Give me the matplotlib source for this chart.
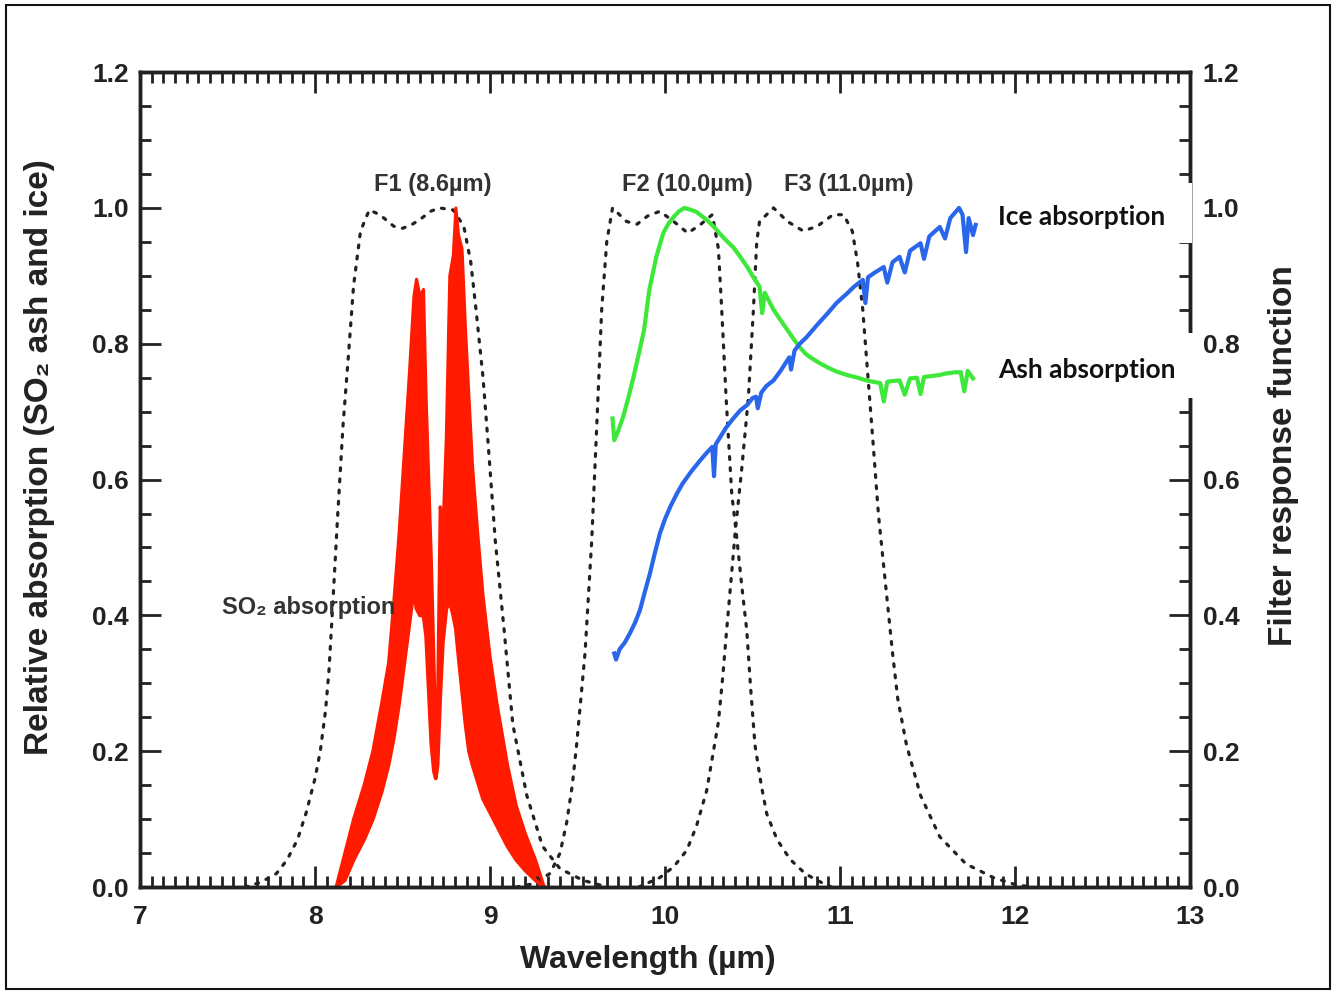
import matplotlib
matplotlib.use("Agg")
import matplotlib.pyplot as plt
from matplotlib.patches import Rectangle
from matplotlib.ticker import MultipleLocator, AutoMinorLocator

plt.rcParams['font.family'] = ['Liberation Sans', 'DejaVu Sans']

# filter response functions (dotted)
f1_wl = [7.60, 7.69, 7.78, 7.84, 7.90, 7.95, 8.00, 8.03, 8.06, 8.08, 8.10, 8.13, 8.16, 8.19, 8.22, 8.26,
         8.31, 8.37, 8.45, 8.50, 8.55, 8.60, 8.66, 8.71, 8.79, 8.85, 8.89, 8.92, 8.96, 8.99, 9.03, 9.08,
         9.13, 9.21, 9.30, 9.40, 9.53, 9.67]
f1_val = [0.0, 0.007, 0.02, 0.04, 0.07, 0.11, 0.16, 0.20, 0.26, 0.32, 0.41, 0.55, 0.68, 0.78, 0.885, 0.966,
          0.997, 0.99, 0.973, 0.97, 0.975, 0.983, 0.995, 1.0, 0.997, 0.973, 0.92, 0.85, 0.75, 0.65, 0.51, 0.38,
          0.24, 0.135, 0.06, 0.027, 0.01, 0.0]

f2_wl = [9.15, 9.25, 9.343, 9.40, 9.438, 9.47, 9.495, 9.52, 9.543, 9.581, 9.61, 9.638, 9.667, 9.70, 9.74,
         9.78, 9.84, 9.90, 9.97, 10.05, 10.13, 10.20, 10.27, 10.305, 10.324, 10.349, 10.381, 10.41, 10.44,
         10.467, 10.49, 10.514, 10.55, 10.581, 10.64, 10.714, 10.80, 10.867, 10.95]
f2_val = [0.0, 0.005, 0.02, 0.05, 0.095, 0.15, 0.21, 0.28, 0.345, 0.51, 0.68, 0.85, 0.95, 1.0, 0.99,
          0.98, 0.976, 0.988, 0.995, 0.98, 0.963, 0.975, 0.99, 0.94, 0.85, 0.72, 0.58, 0.514, 0.44,
          0.378, 0.29, 0.209, 0.15, 0.108, 0.07, 0.041, 0.02, 0.01, 0.0]

f3_wl = [9.85, 9.971, 10.05, 10.124, 10.18, 10.238, 10.27, 10.305, 10.33, 10.352, 10.38, 10.40, 10.438,
         10.476, 10.505, 10.524, 10.54, 10.62, 10.70, 10.79, 10.87, 10.96, 11.02, 11.07, 11.10, 11.13,
         11.16, 11.19, 11.22, 11.26, 11.30, 11.33, 11.38, 11.46, 11.57, 11.72, 11.88, 12.01, 12.10]
f3_val = [0.0, 0.014, 0.03, 0.054, 0.09, 0.142, 0.19, 0.243, 0.31, 0.378, 0.46, 0.52, 0.615,
          0.72, 0.85, 0.95, 0.98, 1.0, 0.98, 0.966, 0.973, 0.99, 0.99, 0.966, 0.92, 0.85,
          0.75, 0.65, 0.547, 0.446, 0.345, 0.277, 0.209, 0.135, 0.074, 0.034, 0.0135, 0.003, 0.0]

# SO2 absorption band: upper and lower edge of the dense red spectrum
so2_wl = [8.12, 8.17, 8.22, 8.28, 8.33, 8.38, 8.42, 8.45, 8.48, 8.51, 8.54, 8.565, 8.58, 8.60, 8.62,
          8.635, 8.65, 8.665, 8.68, 8.69, 8.70, 8.715, 8.73, 8.75, 8.77, 8.79, 8.805, 8.82, 8.84, 8.86,
          8.88, 8.90, 8.93, 8.96, 9.00, 9.04, 9.10, 9.15, 9.20, 9.26, 9.31]
so2_hi = [0.0, 0.05, 0.10, 0.15, 0.20, 0.27, 0.33, 0.42, 0.52, 0.64, 0.76, 0.87, 0.895, 0.87, 0.88,
          0.72, 0.60, 0.48, 0.33, 0.22, 0.27, 0.56, 0.52, 0.66, 0.90, 0.93, 1.0, 0.96, 0.94, 0.82,
          0.72, 0.62, 0.52, 0.43, 0.34, 0.27, 0.18, 0.12, 0.08, 0.04, 0.0]
so2_lo = [0.0, 0.01, 0.04, 0.07, 0.10, 0.14, 0.18, 0.22, 0.27, 0.33, 0.39, 0.44, 0.41, 0.40, 0.40,
          0.37, 0.29, 0.21, 0.17, 0.16, 0.18, 0.28, 0.36, 0.41, 0.42, 0.40, 0.38, 0.34, 0.29, 0.24,
          0.20, 0.18, 0.155, 0.13, 0.11, 0.09, 0.06, 0.04, 0.025, 0.01, 0.0]

# ash absorption (green)
ash_wl = [9.70, 9.71, 9.73, 9.76, 9.79, 9.82, 9.85, 9.88, 9.91, 9.95, 9.99, 10.02, 10.05, 10.08, 10.11,
          10.15, 10.18, 10.21, 10.24, 10.28, 10.31, 10.35, 10.39, 10.43, 10.47, 10.50, 10.54, 10.555,
          10.57, 10.62, 10.66, 10.70, 10.74, 10.77, 10.80, 10.83, 10.88, 10.93, 10.98, 11.04, 11.10,
          11.15, 11.19, 11.23, 11.25, 11.27, 11.30, 11.34, 11.37, 11.40, 11.44, 11.46, 11.48, 11.54,
          11.57, 11.60, 11.63, 11.66, 11.69, 11.71, 11.73, 11.76]
ash_val = [0.69, 0.658, 0.67, 0.692, 0.72, 0.751, 0.785, 0.82, 0.879, 0.928, 0.963, 0.977, 0.987, 0.995,
           1.0, 0.997, 0.994, 0.988, 0.982, 0.972, 0.963, 0.952, 0.942, 0.928, 0.913, 0.90, 0.884, 0.845,
           0.875, 0.85, 0.835, 0.82, 0.805, 0.795, 0.786, 0.78, 0.772, 0.765, 0.759, 0.754, 0.75,
           0.746, 0.744, 0.742, 0.715, 0.744, 0.745, 0.746, 0.725, 0.749, 0.75, 0.726, 0.751, 0.753,
           0.754, 0.756, 0.757, 0.758, 0.758, 0.73, 0.76, 0.749]

# ice absorption (blue)
ice_wl = [9.71, 9.72, 9.74, 9.77, 9.80, 9.83, 9.857, 9.885, 9.914, 9.94, 9.971, 10.00, 10.03, 10.065,
          10.10, 10.15, 10.20, 10.24, 10.27, 10.28, 10.29, 10.35, 10.39, 10.43, 10.47, 10.50, 10.52,
          10.53, 10.55, 10.58, 10.62, 10.66, 10.71, 10.72, 10.74, 10.77, 10.81, 10.87, 10.93, 10.98,
          11.04, 11.08, 11.13, 11.145, 11.16, 11.20, 11.25, 11.27, 11.30, 11.34, 11.37, 11.40, 11.46,
          11.48, 11.51, 11.57, 11.60, 11.63, 11.68, 11.70, 11.72, 11.735, 11.76, 11.775]
ice_val = [0.344, 0.335, 0.35, 0.36, 0.374, 0.39, 0.408, 0.435, 0.462, 0.49, 0.521, 0.542, 0.56, 0.578,
           0.594, 0.612, 0.628, 0.64, 0.648, 0.605, 0.652, 0.677, 0.69, 0.702, 0.71, 0.72, 0.722,
           0.705, 0.728, 0.738, 0.746, 0.76, 0.78, 0.762, 0.79, 0.80, 0.81, 0.828, 0.845, 0.86,
           0.874, 0.884, 0.894, 0.86, 0.898, 0.905, 0.913, 0.89, 0.92, 0.928, 0.905, 0.937, 0.948,
           0.925, 0.958, 0.972, 0.955, 0.985, 1.0, 0.99, 0.935, 0.985, 0.96, 0.975]

filter_labels = ['F1 (8.6\u00b5m)', 'F2 (10.0\u00b5m)', 'F3 (11.0\u00b5m)']
filter_label_x = [8.67, 10.13, 11.05]

fig = plt.figure(figsize=(13.35, 9.93), dpi=100)
ax = fig.add_axes([0.1049, 0.1067, 0.7865, 0.8207])

dot = (0, (0.9, 2.6))
for wl, val in [(f1_wl, f1_val), (f2_wl, f2_val), (f3_wl, f3_val)]:
    ax.plot(wl, val, color='#222222', lw=2.3, linestyle=dot, dash_capstyle='round')

ax.fill_between(so2_wl, so2_lo, so2_hi, color='#ff1a00', lw=0)
ax.plot(so2_wl, so2_hi, color='#ff1a00', lw=2.2)
ax.plot(so2_wl, so2_lo, color='#ff1a00', lw=2.8)
ax.plot(ash_wl, ash_val, color='#3ee83a', lw=3)
ax.plot(ice_wl, ice_val, color='#2a66ea', lw=3)

ax.set_xlim(7, 13)
ax.set_ylim(0, 1.2)
ax.xaxis.set_major_locator(MultipleLocator(1))
ax.xaxis.set_minor_locator(AutoMinorLocator(15))
ax.yaxis.set_major_locator(MultipleLocator(0.2))
ax.yaxis.set_minor_locator(AutoMinorLocator(4))
ax.yaxis.set_major_formatter(plt.FormatStrFormatter('%.1f'))
ax.tick_params(which='both', direction='in', top=True, right=False, width=2, colors='#222222',
               labelsize=19)
ax.tick_params(axis='x', pad=13)
ax.tick_params(axis='y', pad=8)
ax.tick_params(which='major', length=15)
ax.tick_params(which='minor', length=8)
for lab in ax.get_xticklabels() + ax.get_yticklabels():
    lab.set_fontweight('bold')
for s in ax.spines.values():
    s.set_linewidth(2.5)
    s.set_color('#222222')

ax2 = ax.twinx()
ax2.set_ylim(0, 1.2)
ax2.yaxis.set_major_locator(MultipleLocator(0.2))
ax2.yaxis.set_minor_locator(AutoMinorLocator(4))
ax2.yaxis.set_major_formatter(plt.FormatStrFormatter('%.1f'))
ax2.tick_params(which='both', direction='in', width=2, colors='#222222', labelsize=19, pad=9)
ax2.tick_params(which='major', length=15)
ax2.tick_params(which='minor', length=8)
for lab in ax2.get_yticklabels():
    lab.set_fontweight('bold')
for s in ax2.spines.values():
    s.set_linewidth(2.5)
    s.set_color('#222222')

ax.set_xlabel('Wavelength (\u00b5m)', fontsize=23, fontweight='bold', color='#222222')
ax.xaxis.set_label_coords(0.484, -0.071)
ax.set_ylabel('Relative absorption (SO\u2082 ash and ice)', fontsize=24, fontweight='bold', color='#222222')
ax.yaxis.set_label_coords(-0.081, 0.528)
ax2.set_ylabel('Filter response function', fontsize=24, fontweight='bold', color='#222222')
ax2.yaxis.set_label_coords(1.074, 0.530)

for lab, x in zip(filter_labels, filter_label_x):
    ax.text(x, 1.034, lab, ha='center', va='center', fontsize=17, fontweight='bold', color='#333333')
ax.text(7.47, 0.412, 'SO\u2082 absorption', ha='left', va='center', fontsize=17, fontweight='bold',
        color='#333333')

# white boxes behind the curve labels hide part of the right axis
fig.patches.append(Rectangle((0.7378, 0.7553), 0.155, 0.0604, transform=fig.transFigure,
                             facecolor='white', edgecolor='none', zorder=5))
fig.patches.append(Rectangle((0.7378, 0.5992), 0.1615, 0.0655, transform=fig.transFigure,
                             facecolor='white', edgecolor='none', zorder=5))
fig.text(998 / 1335, 1 - 217 / 993, 'Ice absorption', ha='left', va='center', fontsize=19,
         fontweight='bold', family=['Lato', 'DejaVu Sans'], color='#111111', zorder=6)
fig.text(998 / 1335, 1 - 370 / 993, 'Ash absorption', ha='left', va='center', fontsize=19,
         fontweight='bold', family=['Lato', 'DejaVu Sans'], color='#111111', zorder=6)

# outer frame
fig.patches.append(Rectangle((6 / 1335, 4 / 993), 1324 / 1335, 984 / 993, transform=fig.transFigure,
                             facecolor='none', edgecolor='#111111', lw=1.5, zorder=7))

fig.savefig('out.png', dpi=100)
